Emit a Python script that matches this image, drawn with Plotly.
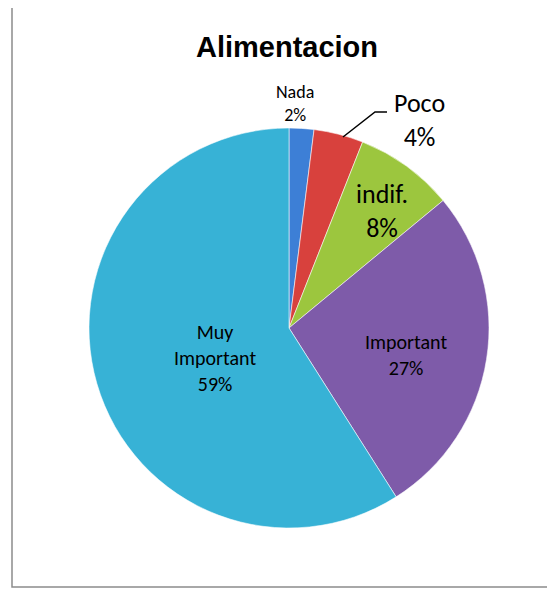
import plotly.graph_objects as go

W, H = 547, 581   # figure size; page body adds an 8px margin
OFF = 8

labels = ["Nada", "Poco", "indif.", "Important", "Muy Important"]
label_text = ["Nada", "Poco", "indif.", "Important", "Muy<br>Important"]
values = [2, 4, 8, 27, 59]
colors = ["#3d7fd6", "#d8413d", "#9cc63e", "#7e5ba9", "#37b2d6"]
text_sizes = [18, 26, 26, 20, 20]
FONT = "Carlito, Lato, sans-serif"

# label anchor points in page pixels (layout only)
label_xy = [(295, 103), (419, 120), (382, 211), (406, 355), (215, 358)]


def px(x):
    return (x - OFF) / W


def py(y):
    return 1 - (y - OFF) / H


total = sum(values)
pct = [round(100 * v / total) for v in values]

fig = go.Figure()
fig.add_trace(go.Pie(
    labels=labels,
    values=values,
    textinfo="none",
    marker=dict(colors=colors, line=dict(color="rgba(255,255,255,0.55)", width=1)),
    sort=False,
    direction="clockwise",
    rotation=0,
    showlegend=False,
    hoverinfo="label+percent",
    domain=dict(x=[px(89), px(489)], y=[py(528), py(128)]),
))

for txt, p, size, (lx, ly) in zip(label_text, pct, text_sizes, label_xy):
    fig.add_annotation(
        x=px(lx), y=py(ly), xref="paper", yref="paper",
        xanchor="center", yanchor="middle",
        text=f"{txt}<br>{p}%", showarrow=False,
        font=dict(size=size, color="black", family=FONT), align="center",
    )

# Poco leader line
fig.add_shape(type="path", xref="paper", yref="paper",
              path=f"M {px(343)} {py(137)} L {px(375)} {py(112)} L {px(387)} {py(112)}",
              line=dict(color="black", width=1.5))

# chart frame
fig.add_shape(type="rect", xref="paper", yref="paper",
              x0=px(12), x1=px(580), y0=py(587), y1=py(7),
              line=dict(color="#8c8c8c", width=1.5), fillcolor="rgba(0,0,0,0)")

fig.update_layout(
    width=W, height=H,
    margin=dict(l=0, r=0, t=0, b=0),
    paper_bgcolor="white",
    plot_bgcolor="white",
    title=dict(text="<b>Alimentacion</b>", x=px(287), y=py(47),
               xanchor="center", yanchor="middle",
               font=dict(size=29, color="black", family="Liberation Sans, Arial, sans-serif")),
)

fig.write_html("out.html")
